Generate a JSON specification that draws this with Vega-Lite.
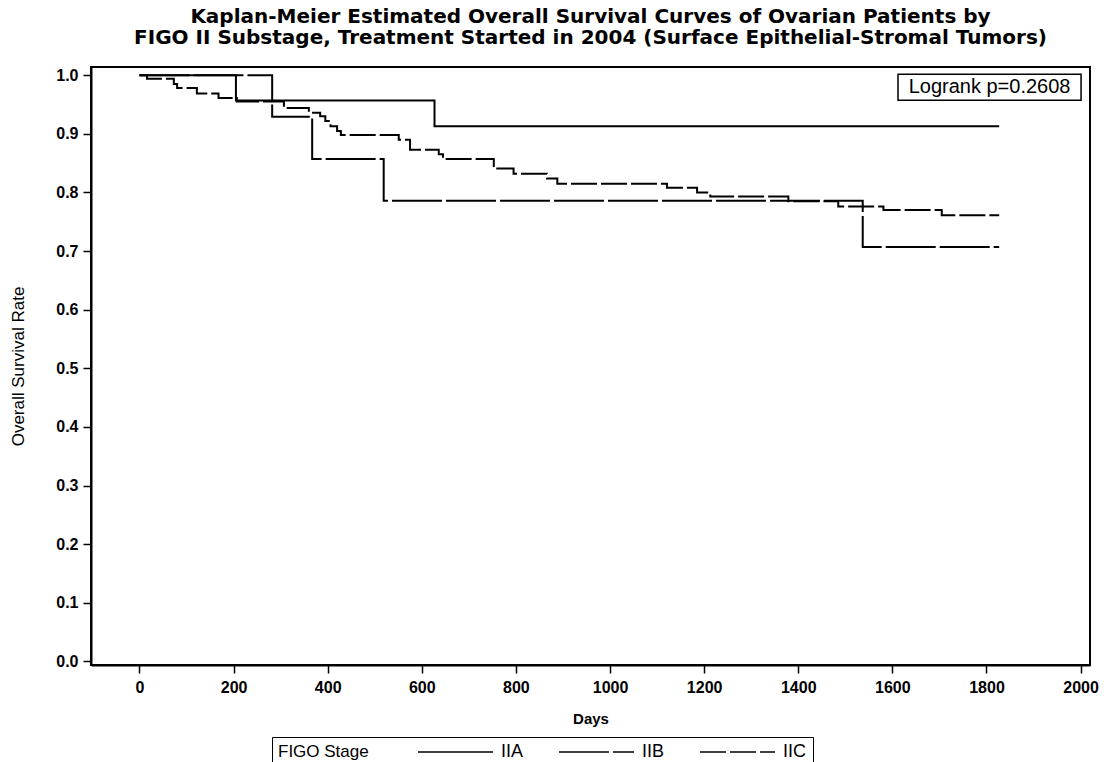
{
  "$schema": "https://vega.github.io/schema/vega-lite/v6.json",
  "width": 999,
  "height": 598,
  "padding": {"left": 9, "top": 7, "right": 5, "bottom": 0},
  "background": "white",
  "title": {
    "text": ["Kaplan-Meier Estimated Overall Survival Curves of Ovarian Patients by", "FIGO II Substage, Treatment Started in 2004 (Surface Epithelial-Stromal Tumors)"],
    "font": "DejaVu Sans",
    "fontSize": 20,
    "fontWeight": "bold",
    "color": "black",
    "anchor": "middle",
    "lineHeight": 21,
    "offset": 19
  },
  "config": {
    "view": {"stroke": "black", "strokeWidth": 2},
    "axis": {
      "domainColor": "black",
      "domainWidth": 2,
      "tickColor": "black",
      "tickWidth": 1.5,
      "tickSize": 8,
      "grid": false,
      "labelColor": "black",
      "labelFont": "Liberation Sans",
      "labelFontWeight": "bold",
      "labelFontSize": 16,
      "titleColor": "black",
      "titleFont": "Liberation Sans"
    }
  },
  "datasets": {
    "km": [
      {"stage": "IIA", "day": 0, "surv": 1.0},
      {"stage": "IIA", "day": 205, "surv": 0.957},
      {"stage": "IIA", "day": 627, "surv": 0.913},
      {"stage": "IIA", "day": 1827, "surv": 0.913},
      {"stage": "IIB", "day": 0, "surv": 1.0},
      {"stage": "IIB", "day": 282, "surv": 0.929},
      {"stage": "IIB", "day": 367, "surv": 0.857},
      {"stage": "IIB", "day": 519, "surv": 0.786},
      {"stage": "IIB", "day": 1537, "surv": 0.707},
      {"stage": "IIB", "day": 1827, "surv": 0.707},
      {"stage": "IIC", "day": 0, "surv": 1.0},
      {"stage": "IIC", "day": 16, "surv": 0.994},
      {"stage": "IIC", "day": 73, "surv": 0.985},
      {"stage": "IIC", "day": 80, "surv": 0.978},
      {"stage": "IIC", "day": 122, "surv": 0.969},
      {"stage": "IIC", "day": 168, "surv": 0.961},
      {"stage": "IIC", "day": 207, "surv": 0.955},
      {"stage": "IIC", "day": 307, "surv": 0.944},
      {"stage": "IIC", "day": 360, "surv": 0.936},
      {"stage": "IIC", "day": 384, "surv": 0.930},
      {"stage": "IIC", "day": 395, "surv": 0.922},
      {"stage": "IIC", "day": 406, "surv": 0.913},
      {"stage": "IIC", "day": 420, "surv": 0.905},
      {"stage": "IIC", "day": 428, "surv": 0.898},
      {"stage": "IIC", "day": 551, "surv": 0.890},
      {"stage": "IIC", "day": 575, "surv": 0.873},
      {"stage": "IIC", "day": 636, "surv": 0.865},
      {"stage": "IIC", "day": 645, "surv": 0.857},
      {"stage": "IIC", "day": 753, "surv": 0.841},
      {"stage": "IIC", "day": 795, "surv": 0.832},
      {"stage": "IIC", "day": 866, "surv": 0.824},
      {"stage": "IIC", "day": 888, "surv": 0.815},
      {"stage": "IIC", "day": 1121, "surv": 0.808},
      {"stage": "IIC", "day": 1185, "surv": 0.800},
      {"stage": "IIC", "day": 1213, "surv": 0.793},
      {"stage": "IIC", "day": 1379, "surv": 0.785},
      {"stage": "IIC", "day": 1485, "surv": 0.776},
      {"stage": "IIC", "day": 1581, "surv": 0.770},
      {"stage": "IIC", "day": 1705, "surv": 0.761},
      {"stage": "IIC", "day": 1827, "surv": 0.761}
    ],
    "note": [
      {"label": "Logrank p=0.2608", "x0": 1612, "x1": 2001, "y0": 0.9574, "y1": 1.0017, "xc": 1806.5, "yc": 0.9796}
    ]
  },
  "layer": [
    {
      "data": {"name": "km"},
      "mark": {"type": "line", "interpolate": "step-after", "strokeWidth": 2, "color": "black"},
      "encoding": {
        "x": {
          "field": "day", "type": "quantitative",
          "scale": {"domain": [-103, 2020], "nice": false, "zero": false},
          "axis": {"values": [0, 200, 400, 600, 800, 1000, 1200, 1400, 1600, 1800, 2000], "format": "d", "title": "Days", "titleFontSize": 15, "titleFontWeight": "bold", "titlePadding": 16, "labelPadding": 6}
        },
        "y": {
          "field": "surv", "type": "quantitative",
          "scale": {"domain": [-0.006, 1.014], "nice": false, "zero": false},
          "axis": {"values": [0, 0.1, 0.2, 0.3, 0.4, 0.5, 0.6, 0.7, 0.8, 0.9, 1.0], "format": ".1f", "title": "Overall Survival Rate", "titleFontSize": 17, "titleFontWeight": "normal", "titlePadding": 28, "labelPadding": 5}
        },
        "strokeDash": {
          "field": "stage", "type": "nominal",
          "scale": {"domain": ["IIA", "IIB", "IIC"], "range": [[1, 0], [50, 4], [26, 4]]},
          "legend": {
            "title": "FIGO Stage",
            "orient": "none",
            "direction": "horizontal",
            "legendX": 181,
            "legendY": 670,
            "titleOrient": "left",
            "titleAnchor": "middle",
            "titleBaseline": "middle",
            "titleFont": "Liberation Sans",
            "titleFontSize": 17,
            "titleFontWeight": "normal",
            "titleColor": "black",
            "titlePadding": 44,
            "labelFont": "Liberation Sans",
            "labelFontSize": 18,
            "labelColor": "black",
            "symbolType": "M-1,0H17.75",
            "symbolSize": 64,
            "symbolStrokeWidth": 1.5,
            "symbolStrokeColor": "black",
            "columnPadding": 30,
            "labelOffset": 70,
            "strokeColor": "black",
            "padding": 6,
            "fillColor": "white"
          }
        }
      }
    },
    {
      "data": {"name": "note"},
      "mark": {"type": "rect", "fill": "white", "stroke": "black", "strokeWidth": 1.5},
      "encoding": {
        "x": {"field": "x0", "type": "quantitative"},
        "x2": {"field": "x1"},
        "y": {"field": "y0", "type": "quantitative"},
        "y2": {"field": "y1"}
      }
    },
    {
      "data": {"name": "note"},
      "mark": {"type": "text", "font": "Liberation Sans", "fontSize": 20, "color": "black", "align": "center", "baseline": "middle"},
      "encoding": {
        "x": {"field": "xc", "type": "quantitative"},
        "y": {"field": "yc", "type": "quantitative"},
        "text": {"field": "label"}
      }
    }
  ]
}
